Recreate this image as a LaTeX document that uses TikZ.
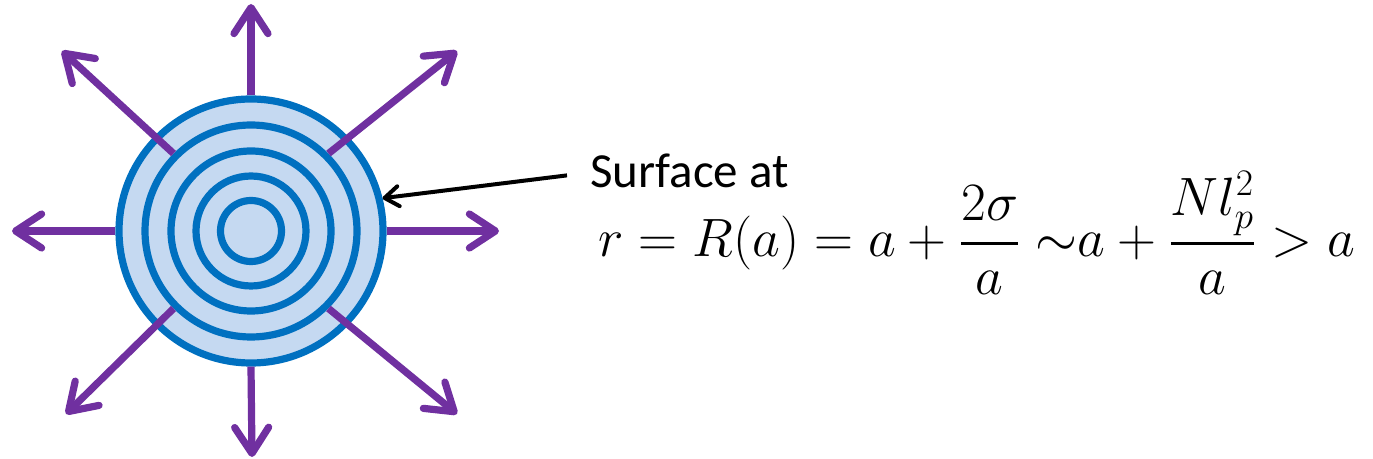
\documentclass[tikz,border=0pt]{standalone}
\usepackage{fontspec}
\setmainfont{Carlito}
\usepackage{amsmath}
\usepackage{graphicx}
\usetikzlibrary{arrows.meta}
\definecolor{dropFill}{RGB}{197,217,241}
\definecolor{dropRing}{RGB}{0,112,192}
\definecolor{flux}{RGB}{112,48,160}

\begin{document}
\begin{tikzpicture}[x=0.5pt,y=-0.5pt,
    ring/.style={circle,draw=dropRing,line width=3.6pt,inner sep=0pt,minimum size=#1},
    outflow/.style={flux,line width=3.6pt,-{Straight Barb[length=13pt,width=17pt,round]}},
    pointer/.style={line width=2pt,-{Straight Barb[length=7pt,width=10pt,round]}}]
  \useasboundingbox (0,0) rectangle (1373,459);
  \node[ring=132pt,fill=dropFill] (r1) at (251,231) {};
  \foreach \d [count=\i from 2] in {106pt,80pt,55pt,30.5pt}
    \node[ring=\d] (r\i) at (r1) {};
  \foreach \n/\a/\x/\y in {n/90/251/4, s/270/252/457, w/180/12/231, e/0/499/231}{
    \coordinate (tip\n) at (\x,\y);
    \draw[outflow] (r1.\a) -- (tip\n);
  }
  \foreach \n/\a/\x/\y in {nw/135/62/51, ne/45/457/51, sw/225/66/414, se/315/457/414}{
    \coordinate (tip\n) at (\x,\y);
    \draw[outflow] (r2.\a) -- (tip\n);
  }
  \node[anchor=base west,inner xsep=11.5pt,inner ysep=0pt,
        font=\fontsize{24.5}{29}\selectfont] (lbl) at (567,188) {Surface at};
  \draw[pointer] ([yshift=-2pt]lbl.west) -- (r1.14);
  \node[anchor=base west,inner sep=0pt,font=\fontsize{24}{29}\selectfont] (eq) at (598,257)
    {\scalebox{1.085}{$\displaystyle r = R(a) = a + \frac{2\sigma}{a}\;{\sim}a + \frac{N l_p^2}{a} > a$}};
\end{tikzpicture}
\end{document}
